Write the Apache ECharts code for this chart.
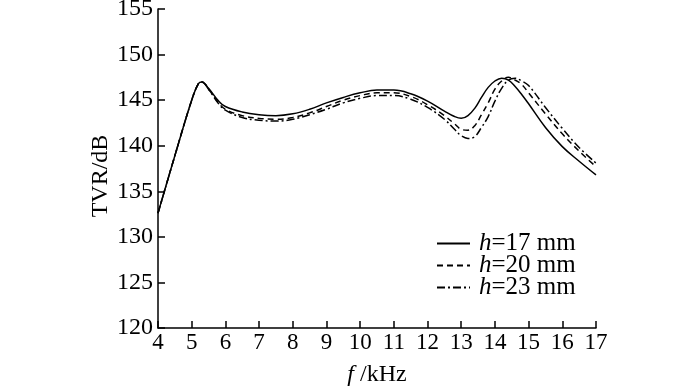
<!DOCTYPE html>
<html>
<head>
<meta charset="utf-8">
<script src="https://cdn.jsdelivr.net/npm/echarts@6/dist/echarts.min.js"></script>
<style>html,body{margin:0;padding:0;background:#fff;}#c{width:700px;height:386px;}</style>
</head>
<body>
<div id="c"></div>
<script>
const freq = [4, 4.5, 5, 5.2, 5.3, 5.5, 5.8, 6, 6.5, 7, 7.5, 8, 8.5, 9, 9.5, 10, 10.5, 11, 11.5, 12, 12.5, 12.8, 13, 13.2, 13.4, 13.6, 13.8, 14, 14.2, 14.4, 14.6, 14.8, 15, 15.5, 16, 16.5, 17];
const tvrH17 = [132.6, 138.9, 145.0, 146.8, 147.0, 146.3, 144.9, 144.3, 143.7, 143.4, 143.3, 143.5, 144.0, 144.7, 145.3, 145.8, 146.1, 146.1, 145.7, 144.9, 143.8, 143.2, 143.0, 143.3, 144.1, 145.3, 146.4, 147.1, 147.4, 147.2, 146.5, 145.6, 144.6, 142.0, 139.9, 138.3, 136.8];
const tvrH20 = [132.6, 138.9, 145.0, 146.8, 147.0, 146.2, 144.7, 144.0, 143.3, 143.0, 142.9, 143.1, 143.6, 144.3, 145.0, 145.5, 145.8, 145.8, 145.4, 144.5, 143.3, 142.4, 141.8, 141.7, 142.2, 143.4, 144.7, 146.2, 147.1, 147.5, 147.2, 146.7, 145.8, 143.5, 141.3, 139.4, 137.7];
const tvrH23 = [132.6, 138.9, 145.0, 146.8, 147.0, 146.2, 144.6, 143.9, 143.1, 142.8, 142.7, 142.9, 143.4, 144.0, 144.7, 145.2, 145.5, 145.5, 145.1, 144.2, 142.9, 141.8, 141.1, 140.8, 141.0, 142.0, 143.2, 144.9, 146.3, 147.2, 147.4, 147.1, 146.6, 144.2, 141.9, 139.8, 138.1];
const seriesNames = ['h=17 mm', 'h=20 mm', 'h=23 mm'];
const legendLabels = {'h=17 mm': '{i|h}=17 mm', 'h=20 mm': '{i|h}=20 mm', 'h=23 mm': '{i|h}=23 mm'};
const xTicks = {min: 4, max: 17, step: 1};
const yTicks = {min: 120, max: 155, step: 5};

const font = '"Liberation Serif", "Times New Roman", serif';
const pair = (ys) => freq.map((f, i) => [f, ys[i]]);
const chart = echarts.init(document.getElementById('c'), null, {renderer: 'canvas'});
const lineSeries = (name, ys, type) => ({
  name: name, type: 'line', data: pair(ys), smooth: 0.4, symbol: 'none', showSymbol: false,
  lineStyle: {color: '#000', width: 1.5, type: type}, itemStyle: {color: '#000'},
  emphasis: {disabled: true}
});
chart.setOption({
  animation: false,
  backgroundColor: '#fff',
  grid: {left: 158, top: 9, right: 104, bottom: 58, containLabel: false, outerBoundsMode: 'none'},
  legend: {
    orient: 'vertical', left: 431, top: 226, itemGap: -3,
    itemWidth: 33, itemHeight: 12,
    data: seriesNames,
    itemStyle: {opacity: 0, borderWidth: 0},
    formatter: (n) => legendLabels[n],
    textStyle: {fontFamily: font, fontSize: 25, lineHeight: 22, color: '#000', padding: [0, 0, 0, 4],
      rich: {i: {fontFamily: font, fontSize: 25, lineHeight: 22, fontStyle: 'italic', color: '#000'}}},
    selectedMode: false
  },
  xAxis: {
    type: 'value', min: xTicks.min, max: xTicks.max, interval: xTicks.step,
    name: '{i|f} /kHz', nameLocation: 'middle', nameGap: 35, nameMoveOverlap: false,
    nameTextStyle: {fontFamily: font, fontSize: 24, color: '#000',
      rich: {i: {fontFamily: font, fontSize: 24, fontStyle: 'italic', color: '#000'}}},
    axisLine: {show: true, lineStyle: {color: '#000', width: 1.5}},
    axisTick: {show: true, inside: true, length: 7, lineStyle: {color: '#000', width: 1.5}},
    axisLabel: {fontFamily: font, fontSize: 23, color: '#000', margin: 3},
    splitLine: {show: false}
  },
  yAxis: {
    type: 'value', min: yTicks.min, max: yTicks.max, interval: yTicks.step,
    name: 'TVR/dB', nameLocation: 'middle', nameGap: 45, nameRotate: 90, nameMoveOverlap: false,
    nameTextStyle: {fontFamily: font, fontSize: 24, color: '#000', padding: [0, 15, 0, 0]},
    axisLine: {show: true, lineStyle: {color: '#000', width: 1.5}},
    axisTick: {show: true, inside: true, length: 7, lineStyle: {color: '#000', width: 1.5}},
    axisLabel: {fontFamily: font, fontSize: 24, color: '#000', margin: 5},
    splitLine: {show: false}
  },
  series: [
    lineSeries(seriesNames[0], tvrH17, 'solid'),
    lineSeries(seriesNames[1], tvrH20, [6, 4]),
    lineSeries(seriesNames[2], tvrH23, [8, 3, 2, 3])
  ]
});
</script>
</body>
</html>
